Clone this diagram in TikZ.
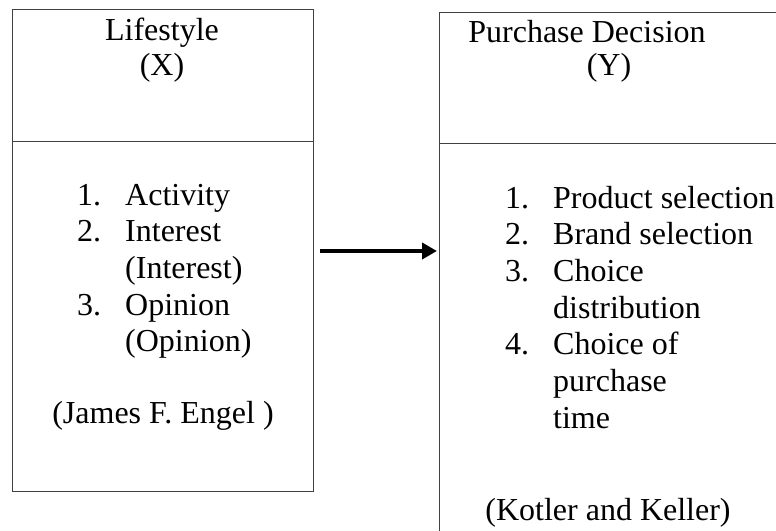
\documentclass[tikz,border=0pt]{standalone}
\usepackage{fontspec}
\setmainfont{Liberation Serif}
\usetikzlibrary{arrows.meta}

\begin{document}
\begin{tikzpicture}[x=1pt,y=-1pt,
  box/.style={draw=black!75,line width=0.9pt,inner sep=0pt,outer sep=0pt,anchor=north west},
  txt/.style={inner sep=0pt,font=\fontsize{32}{36.7}\selectfont},
  arr/.style={-{Triangle[length=15pt,width=16pt]},line width=4pt}]
  \useasboundingbox (0,0) rectangle (776,530);
  \clip (0,0) rectangle (776,530);
  \node[box,minimum width=301pt,minimum height=132pt] (lhead) at (12,9) {};
  \node[box,minimum width=301pt,minimum height=350pt] (lbody) at (lhead.south west) {};
  \node[box,minimum width=400pt,minimum height=131pt] (rhead) at (439,12) {};
  \node[box,minimum width=400pt,minimum height=420pt] (rbody) at (rhead.south west) {};
  \node[txt,anchor=base] (ltitle) at (162,40) {Lifestyle};
  \node[txt,anchor=base] (lvar) at (162,75) {(X)};
  \node[txt,anchor=base west] (llist) at (77,205) {\begin{tabular}[t]{@{}l@{\hspace{24pt}}l@{}}
    1.&Activity\\2.&Interest\\&(Interest)\\3.&Opinion\\&(Opinion)\end{tabular}};
  \node[txt,anchor=base] (lsrc) at (163,423) {(James F. Engel )};
  \node[txt,anchor=base] (rtitle) at (587,42) {Purchase Decision};
  \node[txt,anchor=base] (rvar) at (609,75) {(Y)};
  \node[txt,anchor=base west] (rlist) at (505,208) {\begin{tabular}[t]{@{}l@{\hspace{24pt}}l@{}}
    1.&Product selection\\2.&Brand selection\\3.&Choice\\&distribution\\4.&Choice of\\&purchase\\&time\end{tabular}};
  \node[txt,anchor=base] (rsrc) at (608,520) {(Kotler and Keller)};
  \coordinate (from) at (320,251);
  \coordinate (to) at (437,251);
  \draw[arr] (from) -- (to);
\end{tikzpicture}
\end{document}
